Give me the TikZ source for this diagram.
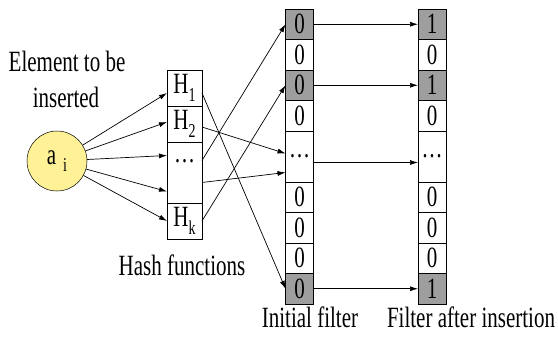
\documentclass[tikz,border=0pt]{standalone}
\usepackage{fontspec}
\setmainfont{Liberation Serif}
\usepackage{graphicx}
\usetikzlibrary{positioning,arrows.meta}

\definecolor{bitgray}{RGB}{158,158,158}
\definecolor{ballyellow}{RGB}{255,242,150}

% tall, narrow print of the reference
\newcommand{\tall}[1]{\scalebox{1}[1.4]{#1}}
\newcommand{\lowsub}[1]{\raisebox{-5.5pt}{\fontsize{14}{14}\selectfont #1}}

\tikzset{
  bitcell/.style={draw, line width=0.7pt, minimum width=28pt, minimum height=30.5pt, inner sep=0pt, outer sep=0pt},
  hitcell/.style={bitcell, fill=bitgray},
  gapcell/.style={bitcell, minimum height=51pt},
  hashcell/.style={bitcell, minimum width=35pt, minimum height=36pt},
  caption/.style={anchor=base, inner sep=0pt}
}

\begin{document}
\begin{tikzpicture}[x=1pt, y=-1pt, >={Latex[length=8pt,width=5pt]}, line width=0.7pt,
    every node/.style={font=\fontsize{21}{24}\selectfont}]
  \useasboundingbox (0,0) rectangle (558,341);

  % element
  \node (ai) [circle, draw, line width=0.5pt, fill=ballyellow, minimum size=60pt, inner sep=0pt] at (57,161)
    {\tall{a\hspace{7pt}\lowsub{i}}\hspace{12pt}};
  \node (elem1) [caption] at (67,71) {\tall{Element to be}};
  \node (elem2) [caption] at (66,107) {\tall{inserted}};

  % hash functions
  \node (H1) [hashcell] at (184.5,88) {\tall{H\lowsub{1}}};
  \node (H2) [hashcell, below=0pt of H1] {\tall{H\lowsub{2}}};
  \node (hdots) [hashcell, minimum height=61pt, text depth=24pt, below=0pt of H2] {\tall{\dots}};
  \node (Hk) [hashcell, below=0pt of hdots] {\tall{H\lowsub{k}}};
  \node (hashtext) [caption] at (182,275) {\tall{Hash functions}};

  % initial filter
  \node (f1) [hitcell] at (299.5,24.25) {\tall{0}};
  \node (f2) [bitcell, below=0pt of f1] {\tall{0}};
  \node (f3) [hitcell, below=0pt of f2] {\tall{0}};
  \node (f4) [bitcell, below=0pt of f3] {\tall{0}};
  \node (fdots) [gapcell, below=0pt of f4] {\tall{\dots}};
  \node (f6) [bitcell, below=0pt of fdots] {\tall{0}};
  \node (f7) [bitcell, below=0pt of f6] {\tall{0}};
  \node (f8) [bitcell, below=0pt of f7] {\tall{0}};
  \node (f9) [hitcell, below=0pt of f8] {\tall{0}};
  \node (inittext) [caption] at (310,327) {\tall{Initial filter}};

  % filter after insertion
  \node (g1) [hitcell] at (432,24.25) {\tall{1}};
  \node (g2) [bitcell, below=0pt of g1] {\tall{0}};
  \node (g3) [hitcell, below=0pt of g2] {\tall{1}};
  \node (g4) [bitcell, below=0pt of g3] {\tall{0}};
  \node (gdots) [gapcell, below=0pt of g4] {\tall{\dots}};
  \node (g6) [bitcell, below=0pt of gdots] {\tall{0}};
  \node (g7) [bitcell, below=0pt of g6] {\tall{0}};
  \node (g8) [bitcell, below=0pt of g7] {\tall{0}};
  \node (g9) [hitcell, below=0pt of g8] {\tall{1}};
  \node (aftertext) [caption] at (471,327) {\tall{Filter after insertion}};

  % element into each hash function
  \draw [->] (ai) -- ([yshift=-5pt]H1.west);
  \draw [->] (ai) -- ([yshift=2pt]H2.west);
  \draw [->] (ai) -- ([yshift=17pt]hdots.west);
  \draw [->] (ai) -- ([yshift=-19pt]hdots.west);
  \draw [->] (ai) -- (Hk.west);

  % hash functions into the filter
  \draw [->] ([yshift=-5pt]H1.east) -- (f9.west);
  \draw [->] ([yshift=-3pt]H2.east) -- ([yshift=3pt]fdots.west);
  \draw [->] ([yshift=12pt]hdots.east) -- (f1.west);
  \draw [->] ([yshift=-10pt]hdots.east) -- ([yshift=-16pt]fdots.west);
  \draw [->] (Hk.east) -- (f3.west);

  % bits set
  \draw [->] (f1) -- (g1);
  \draw [->] (f3) -- (g3);
  \draw [->] ([yshift=-6pt]fdots.east) -- ([yshift=-6pt]gdots.west);
  \draw [->] (f9) -- (g9);
\end{tikzpicture}
\end{document}
